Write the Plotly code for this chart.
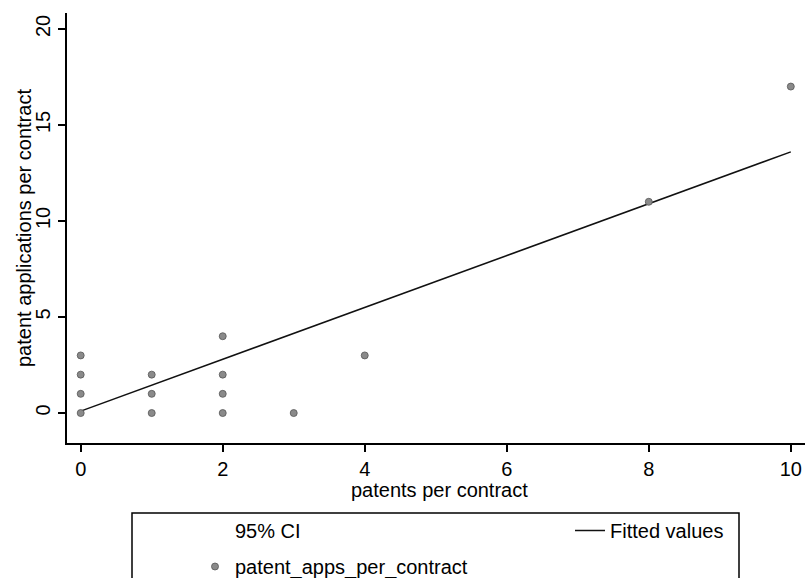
import plotly.graph_objects as go

# Observed data (patents per contract vs patent applications per contract)
patents = [0, 0, 0, 0, 1, 1, 1, 2, 2, 2, 2, 3, 4, 8, 10]
patent_apps = [0, 1, 2, 3, 0, 1, 2, 0, 1, 2, 4, 0, 3, 11, 17]

# Fitted regression line (endpoints)
fit_x = [0, 10]
fit_y = [0.1, 13.6]

x_ticks = [0, 2, 4, 6, 8, 10]
y_ticks = [0, 5, 10, 15, 20]

x_title = "patents per contract"
y_title = "patent applications per contract"

FONT = "Liberation Sans, Arial, sans-serif"

fig = go.Figure()

# 95% CI band is not visible in the picture; keep a legend entry only
fig.add_trace(go.Scatter(
    x=fit_x, y=fit_y, mode="lines", name="95% CI", showlegend=True,
    line=dict(width=0, color="rgba(0,0,0,0)"), legend="legend",
    hoverinfo="skip",
))
fig.add_trace(go.Scatter(
    x=fit_x, y=fit_y, mode="lines", name="Fitted values", showlegend=True,
    line=dict(color="#111111", width=1.5), legend="legend2",
))
fig.add_trace(go.Scatter(
    x=patents, y=patent_apps, mode="markers", name="patent_apps_per_contract",
    showlegend=True,
    marker=dict(symbol="circle", size=7, color="#8a8a8a",
                line=dict(color="#555555", width=0.8)),
    legend="legend3",
))

W, H = 806, 578
L, R, T, B = 67, 1, 13, 135
pw, ph = W - L - R, H - T - B


def px(x):
    return (x - L) / pw


def py(y):
    return (H - B - y) / ph


leg_common = dict(
    font=dict(family=FONT, size=20, color="black"),
    bgcolor="rgba(0,0,0,0)", borderwidth=0,
    xanchor="left", yanchor="top", orientation="v",
)

fig.update_layout(
    width=W, height=H,
    margin=dict(l=L, r=R, t=T, b=B, autoexpand=False),
    paper_bgcolor="white", plot_bgcolor="white",
    font=dict(family=FONT, size=20, color="black"),
    showlegend=True,
    xaxis=dict(
        range=[-0.193, 10.2], tickvals=x_ticks, ticks="outside", ticklen=7,
        tickwidth=1.5, tickcolor="black", showline=True, linecolor="black",
        linewidth=1.5, showgrid=False, zeroline=False, automargin=False,
        tickfont=dict(size=20),
    ),
    yaxis=dict(
        range=[-1.56, 20.83], tickvals=y_ticks, ticks="outside", ticklen=7,
        tickwidth=1.5, tickcolor="black", showline=True, linecolor="black",
        linewidth=1.5, showgrid=False, zeroline=False, tickangle=-90,
        automargin=False,
        tickfont=dict(size=20),
    ),
    legend=dict(x=px(195), y=py(511), **leg_common),
    legend2=dict(x=px(570), y=py(511), **leg_common),
    legend3=dict(x=px(195), y=py(547), **leg_common),
    shapes=[dict(
        type="rect", xref="paper", yref="paper",
        x0=px(132), x1=px(739), y0=py(513), y1=py(600),
        line=dict(color="black", width=1.5), fillcolor="rgba(0,0,0,0)",
    )],
    annotations=[
        dict(text=x_title, xref="paper", yref="paper", x=px(439), y=py(490),
             xanchor="center", yanchor="middle", showarrow=False,
             font=dict(family=FONT, size=20, color="black")),
        dict(text=y_title, xref="paper", yref="paper", x=px(24), y=0.5,
             xanchor="center", yanchor="middle", showarrow=False,
             textangle=-90,
             font=dict(family=FONT, size=20, color="black")),
    ],
)

fig.write_html("out.html")
